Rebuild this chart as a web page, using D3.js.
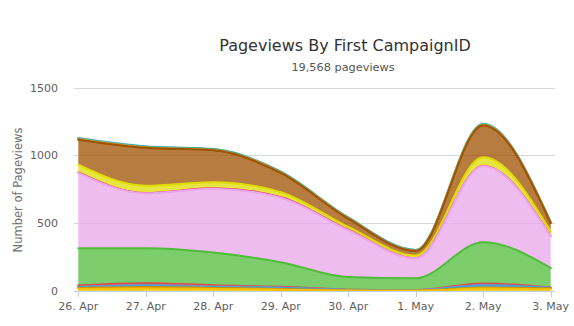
<!DOCTYPE html>
<html><head><meta charset="utf-8">
<script src="https://cdn.jsdelivr.net/npm/d3@7"></script>
<style>
html,body{margin:0;padding:0;background:#fff;}
svg{display:block;font-family:"DejaVu Sans",sans-serif;}
</style></head>
<body><svg id="c" width="574" height="326"></svg>
<script>
// ---- data ----
const dates = ["26. Apr","27. Apr","28. Apr","29. Apr","30. Apr","1. May","2. May","3. May"];
const yTicks = [0, 500, 1000, 1500];
const titleText = "Pageviews By First CampaignID";
const subtitleText = "19,568 pageviews";
const yAxisTitle = "Number of Pageviews";

const gold    = [15, 18, 15, 10, 3, 2, 18, 12];
const orange  = [8, 12, 8, 5, 1, 1, 8, 8];
const blue    = [5, 8, 6, 8, 4, 2, 15, 3];
const purple  = [4, 6, 5, 3, 1, 0, 4, 1];
const red     = [10, 14, 8, 5, 1, 1, 10, 2];
const green   = [273, 257, 241, 181, 93, 88, 305, 144];
const pink    = [556, 405, 471, 475, 346, 147, 562, 235];
const magenta = [3, 2, 3, 5, 3, 1, 2, 1];
const yellow  = [57, 54, 45, 36, 20, 20, 61, 32];
const brown   = [184, 279, 235, 142, 61, 33, 235, 62];
const amber   = [3, 3, 3, 3, 2, 2, 3, 3];
const teal    = [7, 7, 6, 6, 6, 5, 7, 6];
const sky     = [2, 1, 1, 1, 1, 1, 2, 1];

// bottom to top
const seriesList = [
  {key:"gold", values:gold, color:"#f5c000"},
  {key:"orange", values:orange, color:"#d88a00"},
  {key:"blue", values:blue, color:"#3aa6dd"},
  {key:"purple", values:purple, color:"#8d8db5"},
  {key:"red", values:red, color:"#e0494b"},
  {key:"green", values:green, color:"#50bc3a"},
  {key:"pink", values:pink, color:"#eaa6ea"},
  {key:"magenta", values:magenta, color:"#e8307a"},
  {key:"yellow", values:yellow, color:"#e0dc00"},
  {key:"brown", values:brown, color:"#9f5200"},
  {key:"amber", values:amber, color:"#e0a030"},
  {key:"teal", values:teal, color:"#4aa88a"},
  {key:"sky", values:sky, color:"#6cb6e0"}
];

const table = dates.map((d,i)=>{
  const row = {i};
  seriesList.forEach(s=>row[s.key]=s.values[i]);
  return row;
});

// ---- layout ----
const svg = d3.select("#c");
const plotL = 74, plotR = 555, plotT = 87.5, plotB = 291;
const x = d3.scalePoint().domain(dates).range([78.3, 550.7]);
const y = d3.scaleLinear().domain([0,1500]).range([plotB, plotT]);

// grid
svg.append("g").selectAll("line").data(yTicks.filter(t=>t>0)).join("line")
  .attr("x1", plotL).attr("x2", plotR)
  .attr("y1", d=>Math.round(y(d))+0.5).attr("y2", d=>Math.round(y(d))+0.5)
  .attr("stroke", "#d8d8d8").attr("stroke-width", 1);

// stacks
const stack = d3.stack().keys(seriesList.map(s=>s.key));
const layers = stack(table);
const area = d3.area()
  .x(d=>x(dates[d.data.i]))
  .y0(d=>y(d[0])).y1(d=>y(d[1]))
  .curve(d3.curveMonotoneX);
const line = d3.line()
  .x(d=>x(dates[d.data.i]))
  .y(d=>y(d[1]))
  .curve(d3.curveMonotoneX);

// draw top series first, lower series later (on top)
const gA = svg.append("g");
for (let k = layers.length-1; k >= 0; k--) {
  const L = layers[k];
  gA.append("path").attr("d", area(L))
    .attr("fill", seriesList[k].color).attr("fill-opacity", 0.75);
  gA.append("path").attr("d", line(L))
    .attr("fill", "none").attr("stroke", seriesList[k].color)
    .attr("stroke-width", 2).attr("stroke-linejoin","round").attr("stroke-linecap","round");
}

// x axis
const gx = svg.append("g");
gx.append("line").attr("x1", plotL).attr("x2", plotR)
  .attr("y1", plotB+0.5).attr("y2", plotB+0.5).attr("stroke", "#c0d0e0");
gx.selectAll("line.tick").data(dates).join("line").attr("class","tick")
  .attr("x1", d=>Math.round(x(d))+0.5).attr("x2", d=>Math.round(x(d))+0.5)
  .attr("y1", plotB).attr("y2", plotB+6).attr("stroke", "#c0d0e0");
gx.selectAll("text").data(dates).join("text")
  .attr("x", d=>x(d)).attr("y", 309.5).attr("text-anchor","middle")
  .attr("fill", "#606060").style("font-size","11px").text(d=>d);

// y labels
svg.append("g").selectAll("text").data(yTicks).join("text")
  .attr("x", 58).attr("y", d=>y(d)+4).attr("text-anchor","end")
  .attr("fill", "#606060").style("font-size","11px").text(d=>d);

// y title
svg.append("text").attr("transform","translate(21.5,190) rotate(-90)")
  .attr("text-anchor","middle").attr("fill","#707070")
  .style("font-size","11.5px").text(yAxisTitle);

// titles
svg.append("text").attr("x", 345).attr("y", 51).attr("text-anchor","middle")
  .attr("fill","#333333").style("font-size","16px").text(titleText);
svg.append("text").attr("x", 343).attr("y", 70.5).attr("text-anchor","middle")
  .attr("fill","#555555").style("font-size","11.3px").text(subtitleText);
</script></body></html>
